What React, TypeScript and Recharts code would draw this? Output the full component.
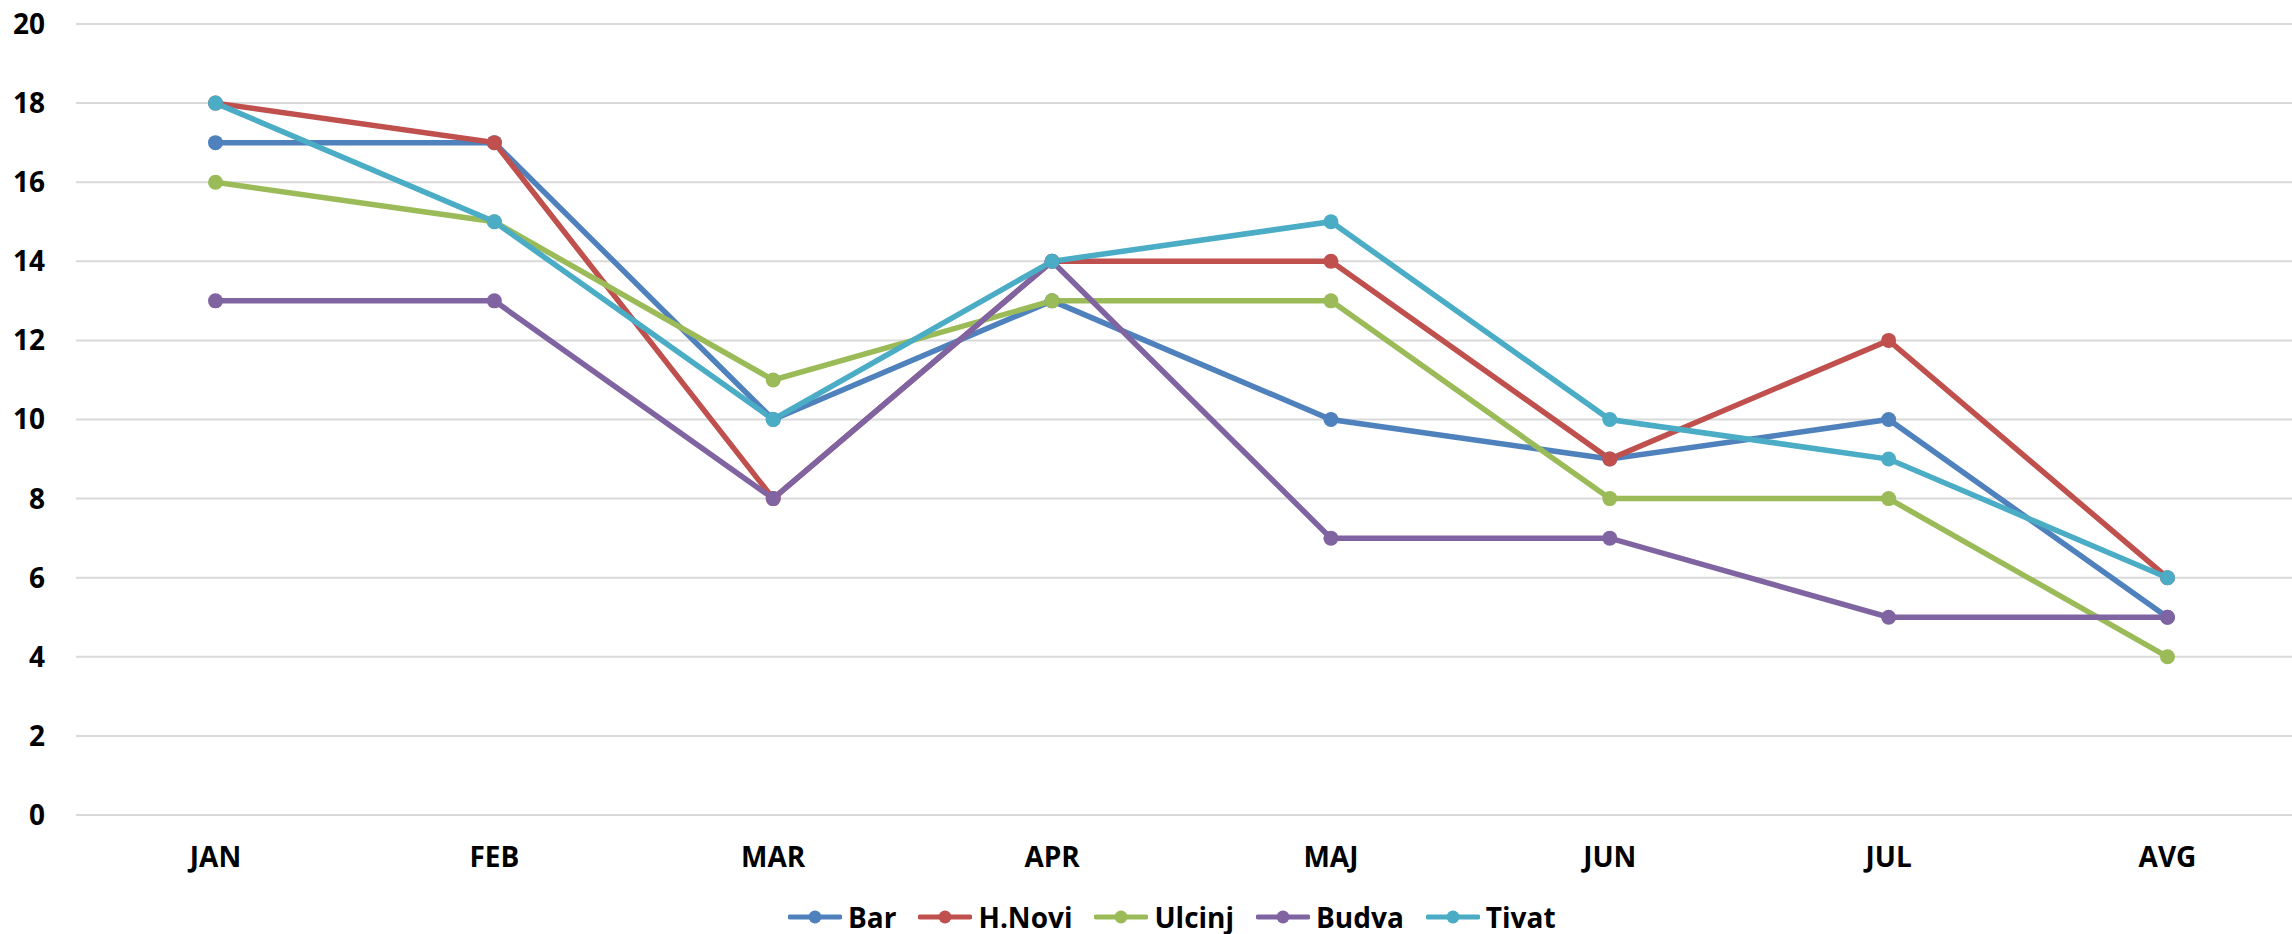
import { LineChart, Line, XAxis, YAxis, CartesianGrid, Legend } from "recharts";

const months = ["JAN", "FEB", "MAR", "APR", "MAJ", "JUN", "JUL", "AVG"];
const bar = [17, 17, 10, 13, 10, 9, 10, 5];
const hNovi = [18, 17, 8, 14, 14, 9, 12, 6];
const ulcinj = [16, 15, 11, 13, 13, 8, 8, 4];
const budva = [13, 13, 8, 14, 7, 7, 5, 5];
const tivat = [18, 15, 10, 14, 15, 10, 9, 6];
const yTicks = [0, 2, 4, 6, 8, 10, 12, 14, 16, 18, 20];

const series = [
  { key: "Bar", values: bar, color: "#4F81BD" },
  { key: "H.Novi", values: hNovi, color: "#C0504D" },
  { key: "Ulcinj", values: ulcinj, color: "#9BBB59" },
  { key: "Budva", values: budva, color: "#8064A2" },
  { key: "Tivat", values: tivat, color: "#4BACC6" },
];

const data = months.map((m, i) => {
  const row: Record<string, string | number> = { month: m };
  series.forEach((s) => (row[s.key] = s.values[i]));
  return row;
});

const font = "'Open Sans', sans-serif";

// keep legend in series order (recharts sorts payload by default)
function LegendContent() {
  return (
    <div
      style={{
        display: "flex",
        alignItems: "center",
        height: 49,
        paddingTop: 14,
        paddingLeft: 788,
        boxSizing: "border-box",
        fontFamily: font,
        fontWeight: 700,
        fontSize: 28,
        color: "#000",
      }}
    >
      {series.map((s) => (
        <div key={s.key} style={{ display: "flex", alignItems: "center", marginRight: 22 }}>
          <svg width={54} height={16} style={{ marginRight: 6 }}>
            <line x1={2} y1={8} x2={52} y2={8} stroke={s.color} strokeWidth={5} strokeLinecap="round" />
            <circle cx={27} cy={8} r={6.5} fill={s.color} />
          </svg>
          <span>{s.key}</span>
        </div>
      ))}
    </div>
  );
}

export default function App() {
  return (
    <div style={{ position: "absolute", left: 0, top: 0, width: 2292, height: 934, overflow: "hidden", background: "#fff" }}>
      <LineChart width={2320} height={934} data={data} margin={{ top: 24, right: 13, left: 0, bottom: 0 }}>
        <CartesianGrid vertical={false} stroke="#d9d9d9" strokeWidth={2} />
        <XAxis
          dataKey="month"
          padding={{ left: 139.5, right: 139.5 }}
          axisLine={false}
          tickLine={false}
          tickSize={0}
          tickMargin={32}
          height={70}
          tick={{ fontSize: 28, fontWeight: 700, fill: "#000", fontFamily: font }}
        />
        <YAxis
          domain={[0, 20]}
          ticks={yTicks}
          interval={0}
          axisLine={false}
          tickLine={false}
          tickSize={0}
          tickMargin={31}
          width={76}
          tick={{ fontSize: 28, fontWeight: 700, fill: "#000", fontFamily: font }}
        />
        <Legend verticalAlign="bottom" height={49} content={<LegendContent />} />
        {series.map((s) => (
          <Line
            key={s.key}
            dataKey={s.key}
            name={s.key}
            stroke={s.color}
            strokeWidth={5.5}
            dot={{ r: 7.5, fill: s.color, stroke: "none" }}
            activeDot={false}
            isAnimationActive={false}
          />
        ))}
      </LineChart>
    </div>
  );
}
